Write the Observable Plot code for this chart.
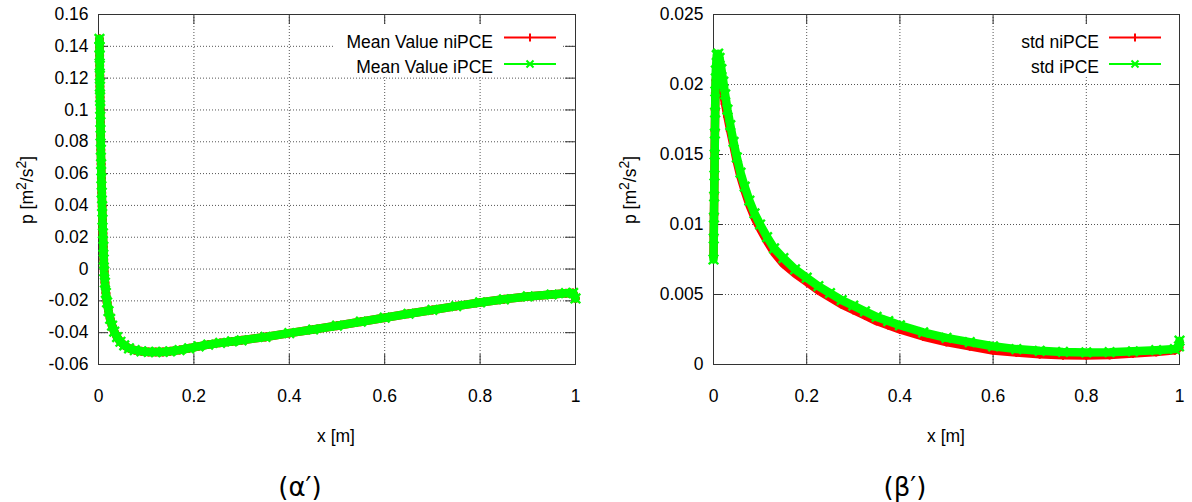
<!DOCTYPE html>
<html><head><meta charset="utf-8">
<script src="https://cdn.jsdelivr.net/npm/d3@7"></script>
<script src="https://cdn.jsdelivr.net/npm/@observablehq/plot@0.6"></script>
<style>
body{margin:0;background:#fff;}
#root{position:relative;width:1192px;height:502px;overflow:hidden;font-family:"Liberation Sans",Arial,sans-serif;color:#000;background:#fff;}
.panel{position:absolute;top:0;}
.lab{position:absolute;font-size:17.5px;white-space:nowrap;line-height:1;}
.box{position:absolute;background:#fff;}
.cap{position:absolute;font-family:"DejaVu Sans",sans-serif;font-size:26px;line-height:1;white-space:nowrap;transform:translate(-50%,-50%);}
</style></head>
<body><div id="root"></div>
<script>
// ---------- data ----------
const xTicks = [0, 0.2, 0.4, 0.6, 0.8, 1];
const meanTicks = [-0.06, -0.04, -0.02, 0, 0.02, 0.04, 0.06, 0.08, 0.1, 0.12, 0.14, 0.16];
const stdTicks = [0, 0.005, 0.01, 0.015, 0.02, 0.025];

const meanX = [0.0020, 0.0022, 0.0024, 0.0026, 0.0028, 0.0030, 0.0033, 0.0036, 0.0040, 0.0044,
  0.0049, 0.0055, 0.0061, 0.0068, 0.0076, 0.0084, 0.0093, 0.0102, 0.0110, 0.0120,
  0.0135, 0.0155, 0.0180, 0.0210, 0.0245, 0.0285, 0.0330, 0.0390, 0.0460, 0.0540,
  0.0640, 0.0760, 0.0900, 0.1050, 0.1200, 0.1350, 0.1500, 0.1700, 0.1900, 0.2100,
  0.2300, 0.2550, 0.2800, 0.3000, 0.3500, 0.4000, 0.4500, 0.5000, 0.5500, 0.6000,
  0.6500, 0.7000, 0.7500, 0.8000, 0.8500, 0.9000, 0.9500, 0.9800, 0.9950, 1.0000];
const meanNiPCE = [0.1447, 0.1394, 0.1342, 0.1279, 0.1216, 0.1147, 0.1080, 0.1007, 0.0923, 0.0839,
  0.0750, 0.0660, 0.0570, 0.0480, 0.0395, 0.0310, 0.0225, 0.0140, 0.0060, -0.0015,
  -0.0085, -0.0150, -0.0210, -0.0265, -0.0313, -0.0356, -0.0393, -0.0428, -0.0457, -0.0480,
  -0.0498, -0.0510, -0.0517, -0.0521, -0.0522, -0.0521, -0.0517, -0.0509, -0.0498, -0.0486,
  -0.0475, -0.0464, -0.0455, -0.0448, -0.0427, -0.0403, -0.0380, -0.0356, -0.0331, -0.0306,
  -0.0281, -0.0257, -0.0233, -0.0210, -0.0190, -0.0172, -0.0160, -0.0152, -0.0150, -0.0185];
const meanIPCE = [0.1447, 0.1394, 0.1342, 0.1279, 0.1216, 0.1147, 0.1080, 0.1007, 0.0923, 0.0839,
  0.0750, 0.0660, 0.0570, 0.0480, 0.0395, 0.0310, 0.0225, 0.0140, 0.0060, -0.0015,
  -0.0085, -0.0150, -0.0210, -0.0265, -0.0313, -0.0356, -0.0393, -0.0428, -0.0457, -0.0480,
  -0.0498, -0.0510, -0.0517, -0.0521, -0.0522, -0.0521, -0.0517, -0.0509, -0.0498, -0.0486,
  -0.0475, -0.0464, -0.0455, -0.0448, -0.0427, -0.0403, -0.0380, -0.0356, -0.0331, -0.0306,
  -0.0281, -0.0257, -0.0233, -0.0210, -0.0190, -0.0172, -0.0160, -0.0152, -0.0150, -0.0185];

const stdX = [0.000, 0.0005, 0.001, 0.0015, 0.002, 0.0025, 0.003, 0.0035, 0.004, 0.005,
  0.007, 0.010, 0.013, 0.017, 0.021, 0.025, 0.030, 0.036, 0.043, 0.050,
  0.058, 0.067, 0.077, 0.088, 0.100, 0.115, 0.130, 0.150, 0.175, 0.200,
  0.225, 0.250, 0.275, 0.300, 0.325, 0.350, 0.375, 0.400, 0.450, 0.500,
  0.550, 0.600, 0.650, 0.700, 0.750, 0.800, 0.850, 0.900, 0.950, 0.990,
  0.999, 1.000];
const stdNiPCE = [0.0077, 0.0092, 0.0107, 0.0122, 0.0137, 0.0152, 0.0167, 0.0182, 0.0194, 0.0203,
  0.0208, 0.0210, 0.0207, 0.0200, 0.0193, 0.0186, 0.0177, 0.0167, 0.0156, 0.0145,
  0.0134, 0.0124, 0.0114, 0.0105, 0.0097, 0.0088, 0.0080, 0.0072, 0.0065, 0.0059,
  0.0053, 0.0048, 0.0043, 0.0039, 0.0035, 0.0031, 0.0028, 0.0025, 0.0020, 0.0016,
  0.0013, 0.0010, 0.00085, 0.00073, 0.00066, 0.00064, 0.00068, 0.00078, 0.00090, 0.00102,
  0.0012, 0.0016];
const stdIPCE = [0.0075, 0.0090, 0.0105, 0.0120, 0.0135, 0.0150, 0.0165, 0.0180, 0.0195, 0.0210,
  0.0221, 0.0222, 0.0219, 0.0211, 0.0202, 0.0193, 0.0182, 0.0171, 0.0159, 0.0148,
  0.0137, 0.0127, 0.0117, 0.0108, 0.0100, 0.0091, 0.0083, 0.0076, 0.0068, 0.0062,
  0.0056, 0.0051, 0.0046, 0.0042, 0.0038, 0.0034, 0.0031, 0.0028, 0.0023, 0.0019,
  0.0016, 0.0013, 0.0011, 0.00098, 0.00090, 0.00086, 0.00088, 0.00094, 0.00102, 0.00110,
  0.0013, 0.0017];

// ---------- drawing ----------
const RED = "#ff0000", GREEN = "#00ff00";
const root = document.getElementById("root");

function makePanel({left, width, marginLeft, marginRight, xs, ni, ip, yTicks}) {
  const marginTop = 14, marginBottom = 56, height = 420;
  const frameH = height - marginTop - marginBottom;
  const frameW = width - marginLeft - marginRight;
  const rowsNi = xs.map((x, i) => ({x, y: ni[i]}));
  const rowsI = xs.map((x, i) => ({x, y: ip[i]}));
  const inner = a => a.slice(1, -1);
  const tl = 10;
  const chart = Plot.plot({
    width, height, marginTop, marginBottom, marginLeft, marginRight,
    style: {fontFamily: "'Liberation Sans', Arial, sans-serif", fontSize: "17.5px", color: "#000", background: "transparent", overflow: "visible"},
    x: {domain: [0, 1], ticks: xTicks, tickSize: 0, tickPadding: 25, tickFormat: d => String(d), label: null},
    y: {domain: [yTicks[0], yTicks[yTicks.length - 1]], ticks: yTicks, tickSize: 0, tickPadding: 10, tickFormat: d => String(d), label: null},
    marks: [
      Plot.ruleX(inner(xTicks), {x: d => d, stroke: "#555", strokeWidth: 1, strokeDasharray: "1,2"}),
      Plot.ruleY(inner(yTicks), {y: d => d, stroke: "#555", strokeWidth: 1, strokeDasharray: "1,2"}),
      Plot.frame({stroke: "#333", strokeWidth: 1}),
      Plot.tickX(inner(xTicks), {x: d => d, insetTop: frameH - tl, stroke: "#333"}),
      Plot.tickX(inner(xTicks), {x: d => d, insetBottom: frameH - tl, stroke: "#333"}),
      Plot.tickY(inner(yTicks), {y: d => d, insetRight: frameW - tl, stroke: "#333"}),
      Plot.tickY(inner(yTicks), {y: d => d, insetLeft: frameW - tl, stroke: "#333"}),
      Plot.line(rowsNi, {x: "x", y: "y", stroke: RED, strokeWidth: 8.5}),
      Plot.dot(rowsNi, {x: "x", y: "y", symbol: "plus", r: 3, stroke: RED, strokeWidth: 2}),
      Plot.line(rowsI, {x: "x", y: "y", stroke: GREEN, strokeWidth: 8.5}),
      Plot.dot(rowsI, {x: "x", y: "y", symbol: "times", r: 4.4, stroke: GREEN, strokeWidth: 2.4})
    ]
  });
  const wrap = document.createElement("div");
  wrap.className = "panel";
  wrap.style.left = left + "px";
  wrap.appendChild(chart);
  root.appendChild(wrap);
}

makePanel({left: 0, width: 596, marginLeft: 98, marginRight: 21, xs: meanX, ni: meanNiPCE, ip: meanIPCE, yTicks: meanTicks});
makePanel({left: 596, width: 596, marginLeft: 117, marginRight: 13, xs: stdX, ni: stdNiPCE, ip: stdIPCE, yTicks: stdTicks});

// ---------- labels, legends, captions ----------
function add(html) { root.insertAdjacentHTML("beforeend", html); }
const sup = '<span style="font-size:0.8em;vertical-align:0.5em">2</span>';
add(`<div class="lab" style="left:25px;top:190px;transform:translate(-50%,-50%) rotate(-90deg)">p [m${sup}/s${sup}]</div>`);
add(`<div class="lab" style="left:628px;top:190px;transform:translate(-50%,-50%) rotate(-90deg)">p [m${sup}/s${sup}]</div>`);
add(`<div class="lab" style="left:336px;top:427.5px;transform:translateX(-50%)">x [m]</div>`);
add(`<div class="lab" style="left:946px;top:427.5px;transform:translateX(-50%)">x [m]</div>`);
add(`<div class="cap" style="left:300px;top:487px">(α′)</div>`);
add(`<div class="cap" style="left:905px;top:487px">(β′)</div>`);

function legend(boxL, boxR, textRight, lineL, lineR, names) {
  add(`<div class="box" style="left:${boxL}px;top:26px;width:${boxR - boxL}px;height:51px"></div>`);
  add(`<div class="lab" style="right:${1192 - textRight}px;top:33.5px">${names[0]}</div>`);
  add(`<div class="lab" style="right:${1192 - textRight}px;top:58.5px">${names[1]}</div>`);
  const mid = (lineL + lineR) / 2;
  add(`<svg style="position:absolute;left:0;top:0" width="1192" height="100">
    <line x1="${lineL}" x2="${lineR}" y1="37.5" y2="37.5" stroke="${RED}" stroke-width="2.2"/>
    <line x1="${mid}" x2="${mid}" y1="33.5" y2="41.5" stroke="${RED}" stroke-width="2"/>
    <line x1="${lineL}" x2="${lineR}" y1="64" y2="64" stroke="${GREEN}" stroke-width="2.2"/>
    <path d="M${mid - 3.5},60.5L${mid + 3.5},67.5M${mid - 3.5},67.5L${mid + 3.5},60.5" stroke="${GREEN}" stroke-width="2"/>
  </svg>`);
}
legend(335, 563, 493, 504, 556, ["Mean Value niPCE", "Mean Value iPCE"]);
legend(1005, 1167, 1099, 1109, 1161, ["std niPCE", "std iPCE"]);
</script>
</body></html>
